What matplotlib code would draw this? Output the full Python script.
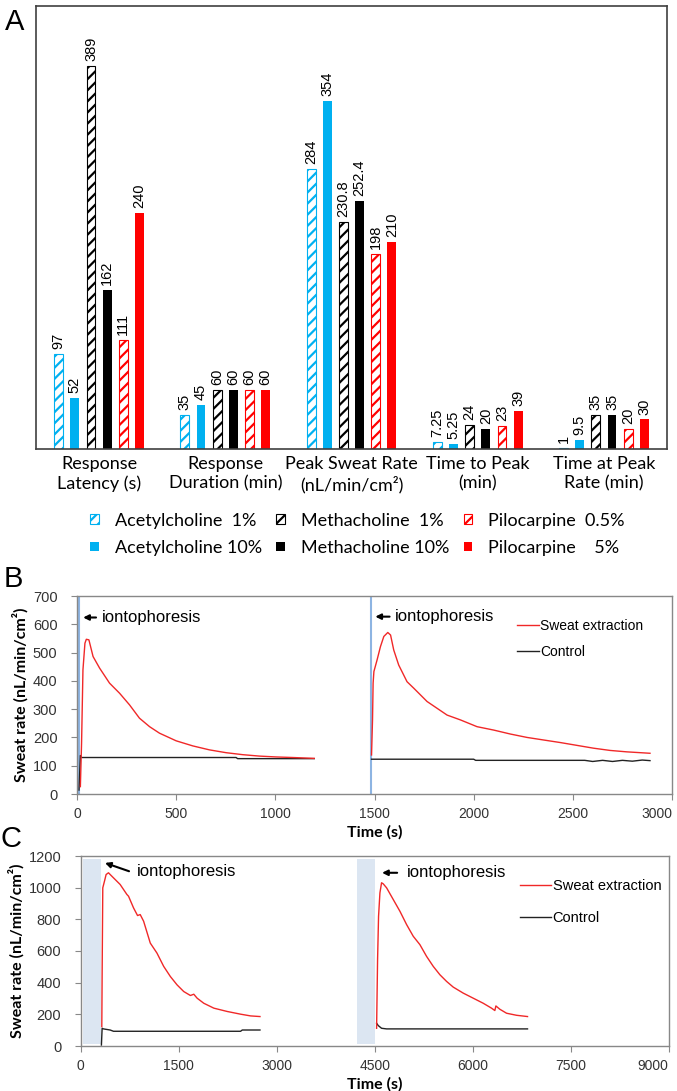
import matplotlib.pyplot as plt
import numpy as np
from matplotlib.patches import Patch
from matplotlib.lines import Line2D

# ---------------- panel A data ----------------
categories = ['Response\nLatency (s)', 'Response\nDuration (min)',
              'Peak Sweat Rate\n(nL/min/cm²)', 'Time to Peak\n(min)',
              'Time at Peak\nRate (min)']
series_names = ['Acetylcholine  1%', 'Acetylcholine 10%', 'Methacholine  1%',
                'Methacholine 10%', 'Pilocarpine  0.5%', 'Pilocarpine    5%']
ach_1 = [97, 35, 284, 7.25, 1]
ach_10 = [52, 45, 354, 5.25, 9.5]
mch_1 = [389, 60, 230.8, 24, 35]
mch_10 = [162, 60, 252.4, 20, 35]
pilo_05 = [111, 60, 198, 23, 20]
pilo_5 = [240, 60, 210, 39, 30]

# ---------------- panel B data (time s, sweat rate nL/min/cm2) ----------------
b_ionto = [8, 1480]
b_sweat1_t = [17, 23, 30, 40, 47, 60, 81, 114, 164, 215, 265, 315, 366, 416, 500,
              584, 668, 752, 836, 920, 1003, 1087, 1196]
b_sweat1_v = [26, 179, 439, 533, 547, 545, 486, 445, 392, 356, 315, 268, 238, 215, 188,
              170, 156, 146, 139, 134, 131, 129, 126]
b_ctrl1_t = [10, 17, 23, 802, 810, 1196]
b_ctrl1_v = [14, 136, 129, 129, 125, 125]
b_sweat2_t = [1485, 1490, 1493, 1497, 1513, 1530, 1547, 1567, 1581, 1597, 1622, 1664,
              1698, 1765, 1866, 1933, 2017, 2101, 2185, 2269, 2352, 2436, 2520, 2604,
              2688, 2772, 2889]
b_sweat2_v = [138, 262, 392, 433, 474, 521, 557, 571, 562, 509, 456, 397,
              374, 327, 279, 262, 238, 226, 212, 200, 191, 182, 172, 162,
              154, 149, 144]
b_ctrl2_t = [1485, 2000, 2010, 2560, 2600, 2650, 2700, 2750, 2800, 2850, 2889]
b_ctrl2_v = [123, 123, 119, 119, 115, 119, 115, 119, 116, 120, 118]

# ---------------- panel C data ----------------
c_ionto = [(30, 310), (4230, 4510)]
c_sweat1_t = [323, 328, 338, 364, 389, 425, 451, 502, 604, 707, 732, 809, 870, 911, 963,
              1065, 1167, 1270, 1372, 1475, 1577, 1679, 1731, 1782, 1884, 2038, 2243,
              2447, 2601, 2744]
c_sweat1_v = [122, 450, 999, 1041, 1083, 1094, 1083, 1062, 1020, 957, 946, 872, 824, 830, 788,
              650, 587, 503, 439, 386, 344, 319, 327, 302, 270, 239, 218,
              201, 190, 186]
c_ctrl1_t = [317, 328, 348, 451, 502, 2447, 2473, 2744]
c_ctrl1_v = [6, 112, 108, 101, 93, 93, 101, 101]
c_sweat2_t = [4529, 4544, 4559, 4580, 4605, 4631, 4682, 4784, 4886, 4988, 5090, 5192, 5294,
              5396, 5498, 5600, 5702, 5855, 6008, 6161, 6288, 6339, 6355, 6416, 6518,
              6671, 6839]
c_sweat2_v = [112, 545, 819, 967, 1031, 1024, 999, 925, 851, 767, 693, 640, 566,
              503, 450, 408, 372, 334, 302, 270, 239, 224, 253, 232, 207,
              194, 186]
c_ctrl2_t = [4529, 4554, 4605, 4682, 6839]
c_ctrl2_v = [144, 129, 112, 108, 108]

BLUE = '#00B0F0'
RED = '#FF0000'
plt.rcParams['hatch.linewidth'] = 1.6

fig = plt.figure(figsize=(6.77, 10.91), dpi=100)

# ================= panel A =================
axA = fig.add_axes([36/677, 1-449/1091, 631/677, 443/1091])
series = [ach_1, ach_10, mch_1, mch_10, pilo_05, pilo_5]
colors = [BLUE, BLUE, 'black', 'black', RED, RED]
hatched = [True, False, True, False, True, False]
x = np.arange(len(categories))
width = 0.07
handles = []
for i, vals in enumerate(series):
    pos = x + (i - 2.5) * 0.128
    if hatched[i]:
        axA.bar(pos, vals, width, facecolor='white', edgecolor=colors[i],
                hatch='///', linewidth=0.8)
        handles.append(Patch(facecolor='white', edgecolor=colors[i], hatch='///', linewidth=0.8))
    else:
        axA.bar(pos, vals, width, color=colors[i])
        handles.append(Patch(facecolor=colors[i]))
    for p, v in zip(pos, vals):
        axA.text(p, v + 5, f'{v:g}', rotation=90, ha='center', va='bottom',
                 fontsize=10.5, family='Liberation Sans')

axA.set_xlim(-0.5, 4.5)
axA.set_ylim(0, 450)
axA.set_yticks([])
axA.set_xticks(x)
axA.set_xticklabels(categories, fontsize=13, family='Lato', linespacing=1.25)
axA.tick_params(axis='x', length=0, pad=5)
for s in axA.spines.values():
    s.set_color('#404040')
    s.set_linewidth(1.2)

fig.legend(handles, series_names, ncol=3, loc='upper center', bbox_to_anchor=(0.528, 0.545),
           frameon=False, prop={'family': 'Lato', 'size': 13}, handlelength=0.45,
           handleheight=0.45, handletextpad=0.9, columnspacing=0.8, labelspacing=0.63)

fig.text(15/677, 1-22/1091, 'A', fontsize=21, ha='center', va='center', family='Liberation Sans')
fig.text(13/677, 1-579/1091, 'B', fontsize=21, ha='center', va='center', family='Liberation Sans')
fig.text(11/677, 1-839/1091, 'C', fontsize=21, ha='center', va='center', family='Liberation Sans')


def style_axes(ax):
    for s in ax.spines.values():
        s.set_color('#888888')
        s.set_linewidth(1.0)
    ax.tick_params(direction='out', length=4, color='#888888', labelsize=10,
                   labelcolor='#333333')
    ax.tick_params(axis='y', pad=10)
    ax.tick_params(axis='x', pad=5)
    for lab in ax.get_xticklabels():
        lab.set_family('Liberation Sans')
    for lab in ax.get_yticklabels():
        lab.set_family(['Liberation Sans Narrow', 'Liberation Sans'])
        lab.set_fontsize(10.5)
    # last x tick label kept inside the frame
    ax.get_xticklabels()[-1].set_horizontalalignment('right')
    ax.set_xlabel('Time (s)', fontsize=11.5, fontweight='bold', family='Lato', labelpad=3)
    ax.set_ylabel('Sweat rate (nL/min/cm²)', fontsize=11.5, fontweight='bold',
                  family='Lato', labelpad=3)


# ================= panel B =================
axB = fig.add_axes([77/677, 1-794/1091, 595/677, 198/1091])
for t in b_ionto:
    axB.axvline(t, color='#8DB4E2', lw=1.5)
axB.plot(b_ctrl1_t, b_ctrl1_v, color='#222222', lw=1.0)
axB.plot(b_ctrl2_t, b_ctrl2_v, color='#222222', lw=1.0)
axB.plot(b_sweat1_t, b_sweat1_v, color='#F02828', lw=1.0)
axB.plot(b_sweat2_t, b_sweat2_v, color='#F02828', lw=1.0)
axB.set_xlim(0, 3000)
axB.set_ylim(0, 700)
axB.set_xticks(np.arange(0, 3001, 500))
axB.set_yticks(np.arange(0, 701, 100))
style_axes(axB)
axB.annotate('', xy=(17, 624), xytext=(110, 624),
             arrowprops=dict(arrowstyle='-|>', color='black', lw=1.5, mutation_scale=8))
axB.text(125, 624, 'iontophoresis', fontsize=12, va='center', family='Liberation Sans')
axB.annotate('', xy=(1490, 627), xytext=(1590, 627),
             arrowprops=dict(arrowstyle='-|>', color='black', lw=1.5, mutation_scale=8))
axB.text(1603, 627, 'iontophoresis', fontsize=12, va='center', family='Liberation Sans')
axB.legend([Line2D([], [], color='#F02828', lw=1.0), Line2D([], [], color='#222222', lw=1.0)],
           ['Sweat extraction', 'Control'], loc='upper left', bbox_to_anchor=(0.739, 0.884),
           frameon=False, borderpad=0, borderaxespad=0, handlelength=1.6, handletextpad=0.1,
           labelspacing=0.85, prop={'family': 'Liberation Sans', 'size': 10})

# ================= panel C =================
axC = fig.add_axes([80.7/677, 1-1046/1091, 588/677, 190/1091])
for t0, t1 in c_ionto:
    axC.axvspan(t0, t1, ymin=0.01, ymax=0.985, color='#DCE6F2', lw=0)
axC.plot(c_ctrl1_t, c_ctrl1_v, color='#222222', lw=1.0)
axC.plot(c_ctrl2_t, c_ctrl2_v, color='#222222', lw=1.0)
axC.plot(c_sweat1_t, c_sweat1_v, color='#F02828', lw=1.0)
axC.plot(c_sweat2_t, c_sweat2_v, color='#F02828', lw=1.0)
axC.set_xlim(0, 9000)
axC.set_ylim(0, 1200)
axC.set_xticks(np.arange(0, 9001, 1500))
axC.set_yticks(np.arange(0, 1201, 200))
style_axes(axC)
axC.annotate('', xy=(332, 1162), xytext=(780, 1098),
             arrowprops=dict(arrowstyle='-|>', color='black', lw=1.5, mutation_scale=8))
axC.text(857, 1105, 'iontophoresis', fontsize=12, va='center', family='Liberation Sans')
axC.annotate('', xy=(4570, 1094), xytext=(4886, 1094),
             arrowprops=dict(arrowstyle='-|>', color='black', lw=1.5, mutation_scale=8))
axC.text(4988, 1094, 'iontophoresis', fontsize=12, va='center', family='Liberation Sans')
axC.legend([Line2D([], [], color='#F02828', lw=1.0), Line2D([], [], color='#222222', lw=1.0)],
           ['Sweat extraction', 'Control'], loc='upper left', bbox_to_anchor=(0.747, 0.878),
           frameon=False, borderpad=0, borderaxespad=0, handlelength=2.15, handletextpad=0.1,
           labelspacing=1.2, prop={'family': 'Liberation Sans', 'size': 10.5})

fig.savefig('out.png', dpi=100)
